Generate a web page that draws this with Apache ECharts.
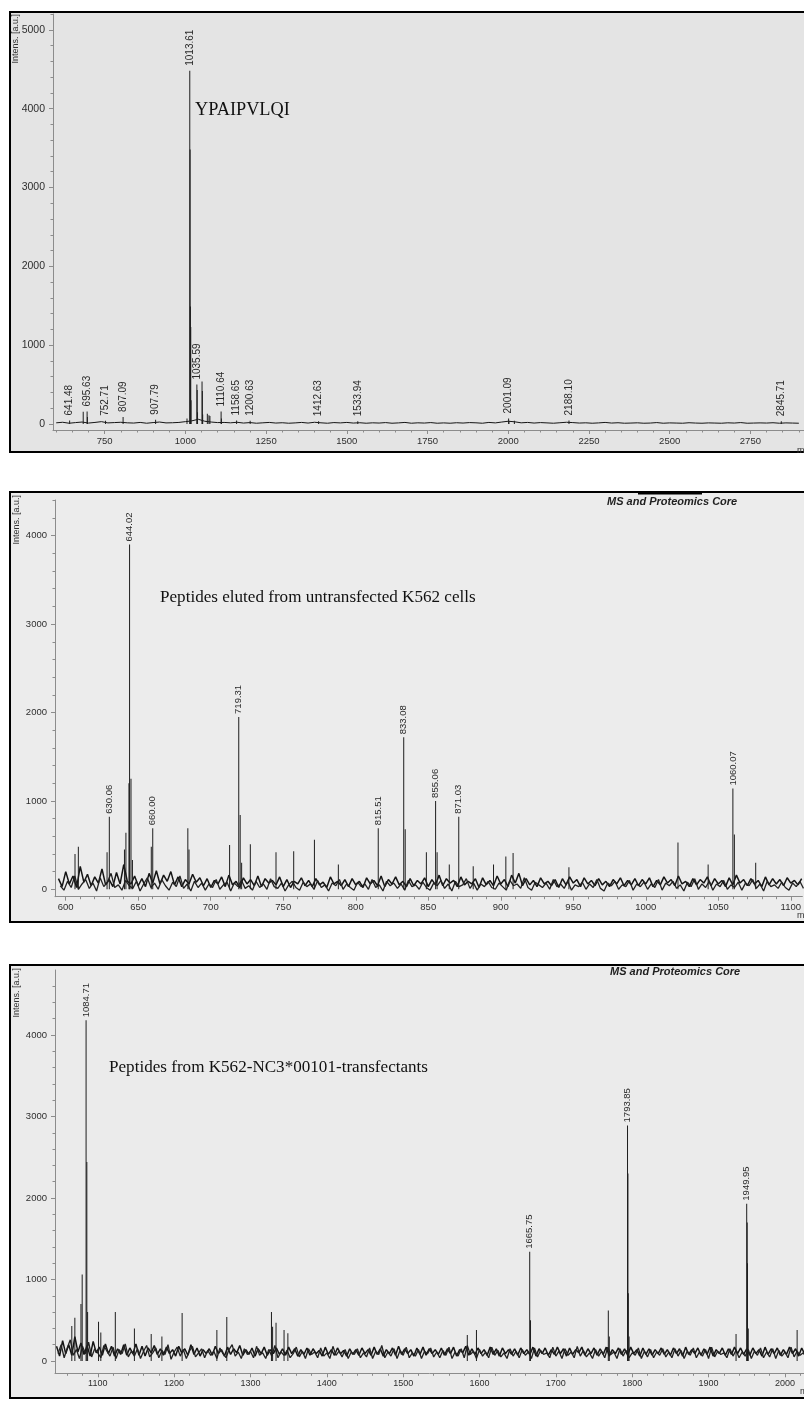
<!DOCTYPE html>
<html>
<head>
<meta charset="utf-8">
<script src="https://cdn.jsdelivr.net/npm/echarts@6/dist/echarts.min.js"></script>
<style>
html,body{margin:0;padding:0;background:#ffffff;overflow:hidden}
#c{width:804px;height:1401px}
</style>
</head>
<body>
<div id="c"></div>
<script>
// ================= DATA =================
// Panel 1 : YPAIPVLQI
const P1_X_TICKS = [750, 1000, 1250, 1500, 1750, 2000, 2250, 2500, 2750];
const P1_Y_TICKS = [0, 1000, 2000, 3000, 4000, 5000];
const P1_LABELED = [[641.48, 45], [695.63, 160], [752.71, 40], [807.09, 90], [907.79, 55],
  [1013.61, 4480], [1035.59, 500], [1110.64, 160], [1158.65, 45], [1200.63, 40],
  [1412.63, 35], [1533.94, 35], [2001.09, 70], [2188.10, 45], [2845.71, 35]];
const P1_PEAKS = [[683.6, 155], [696.6, 90], [1005.0, 70], [1014.62, 3480], [1015.62, 1490],
  [1016.62, 1230], [1017.6, 300], [1036.6, 430], [1037.6, 150], [1051.6, 540], [1052.6, 420],
  [1053.6, 120], [1068.0, 130], [1073.0, 110], [1076.0, 100], [1111.6, 70], [2002.1, 40], [2019.0, 40]];
const P1_NOISE_START = 600, P1_NOISE_STEP = 20;
const P1_NOISE = [
  15, 22, 10, 18, 25, 12, 20, 30, 14, 18,
  22, 15, 12, 20, 10, 18, 25, 14, 16, 20,
  30, 40, 60, 35, 25, 18, 20, 15, 22, 12,
  18, 10, 15, 20, 12, 16, 10, 14, 20, 12,
  22, 15, 10, 18, 14, 20, 12, 16, 10, 15,
  12, 18, 10, 14, 20, 10, 15, 12, 18, 10,
  14, 10, 16, 12, 18, 15, 10, 20, 14, 25,
  35, 28, 15, 20, 12, 18, 14, 10, 16, 22,
  18, 12, 15, 10, 14, 20, 12, 16, 10, 12,
  15, 10, 12, 18, 10, 14, 12, 10, 16, 12,
  10, 14, 12, 10, 15, 12, 18, 10, 12, 14,
  12, 16, 10, 14, 12, 10];
const P1_NOISE_B = [];

// Panel 2 : untransfected K562
const P2_X_TICKS = [600, 650, 700, 750, 800, 850, 900, 950, 1000, 1050, 1100];
const P2_Y_TICKS = [0, 1000, 2000, 3000, 4000];
const P2_LABELED = [[630.06, 820], [644.02, 3900], [660.00, 690], [719.31, 1950], [815.51, 690],
  [833.08, 1720], [855.06, 1000], [871.03, 820], [1060.07, 1140]];
const P2_PEAKS = [[606.4, 400], [608.7, 480], [628.5, 420], [640.5, 450], [641.5, 640], [643.6, 1200],
  [645.0, 1250], [646.0, 330], [659.0, 480], [684.2, 690], [685.0, 450], [713.0, 500], [720.3, 840],
  [721.3, 300], [727.3, 510], [745.0, 420], [757.2, 430], [771.5, 560], [788.0, 280], [834.1, 680],
  [848.7, 420], [856.1, 420], [864.5, 280], [881.0, 260], [895.0, 280], [903.5, 370], [908.5, 410],
  [947.0, 250], [1022.2, 530], [1043.0, 280], [1061.1, 620], [1075.8, 300]];
const P2_NOISE_START = 595, P2_NOISE_STEP = 2.5;
const P2_NOISE = [
  120, 30, 200, 60, 150, 20, 260, 80, 170, 40, 140, 70, 230, 50, 110, 30, 190, 60, 280, 90,
  60, 150, 40, 120, 30, 180, 70, 210, 60, 160, 90, 200, 50, 140, 30, 110, 60, 170, 80, 130,
  40, 120, 20, 100, 60, 140, 30, 160, 50, 90, 20, 130, 60, 110, 40, 150, 30, 120, 70, 100,
  50, 140, 30, 110, 20, 90, 60, 130, 40, 100, 30, 120, 50, 80, 20, 140, 60, 90, 40, 110,
  30, 120, 50, 90, 20, 130, 60, 100, 40, 150, 30, 110, 60, 140, 50, 90, 30, 120, 40, 100,
  60, 130, 30, 110, 50, 160, 40, 120, 70, 100, 30, 140, 50, 90, 60, 120, 20, 130, 50, 100,
  40, 150, 60, 110, 30, 160, 70, 180, 40, 120, 50, 100, 30, 130, 60, 90, 40, 110, 20, 120,
  50, 140, 70, 110, 30, 130, 60, 100, 40, 120, 50, 90, 30, 110, 60, 130, 40, 100, 50, 120,
  40, 110, 60, 130, 30, 100, 50, 140, 70, 110, 40, 150, 60, 90, 30, 120, 50, 110, 70, 140,
  40, 120, 60, 100, 30, 130, 50, 160, 70, 110, 40, 120, 60, 100, 30, 140, 50, 120, 60, 110,
  40, 130, 70, 100, 50, 120];
// second overlaid trace of the same spectrum (offset half a step)
const P2_NOISE_B_START = 596.25;
const P2_NOISE_B = [
  40, -10, 90, 20, 150, 0, 60, 110, 10, 70, -20, 130, 30, 80, 180, 20, 50, -10, 100, 40,
  10, 90, -20, 60, 130, 20, 70, 0, 110, 40, -10, 80, 30, 150, 10, 60, -20, 90, 20, 70,
  -10, 60, 20, 110, 0, 50, 80, -20, 70, 30, 100, 10, 40, -10, 90, 20, 60, 0, 120, 30,
  10, 70, -20, 50, 90, 20, -10, 80, 30, 60, 0, 100, 20, 50, -20, 70, 40, 110, 0, 60,
  20, -10, 80, 30, 60, 0, 110, 20, 50, -20, 90, 40, 70, 10, 60, -10, 100, 30, 50, 0,
  80, 20, -10, 70, 40, 100, 10, 60, -20, 90, 30, 50, 120, 10, 70, -10, 60, 30, 90, 20,
  0, 70, 30, -10, 100, 40, 60, 10, 130, 20, -10, 80, 50, 20, 70, 0, 110, 30, 60, 10,
  90, -10, 50, 30, 80, 0, 60, 20, 110, 10, -20, 70, 40, 90, 0, 50, 30, 100, -10, 60,
  30, 80, 0, 60, 20, 110, -10, 70, 40, 90, 10, 50, -20, 80, 30, 120, 0, 60, 20, 90,
  -10, 60, 30, 100, 0, 50, 20, 80, -10, 70, 40, 110, 10, 60, -20, 90, 30, 50, 10, 80,
  20, -10, 70, 30, 90, 10];

// Panel 3 : K562-NC3*00101 transfectants
const P3_X_TICKS = [1100, 1200, 1300, 1400, 1500, 1600, 1700, 1800, 1900, 2000];
const P3_Y_TICKS = [0, 1000, 2000, 3000, 4000];
const P3_LABELED = [[1084.71, 4180], [1665.75, 1340], [1793.85, 2890], [1949.95, 1930]];
const P3_PEAKS = [[1066.0, 430], [1070.0, 530], [1078.0, 700], [1079.6, 1060], [1085.7, 2440],
  [1086.7, 600], [1101.0, 480], [1104.0, 350], [1123.0, 600], [1148.0, 400], [1170.0, 330],
  [1184.0, 300], [1210.5, 590], [1256.0, 380], [1269.0, 540], [1327.5, 600], [1329.0, 420],
  [1333.5, 470], [1344.0, 380], [1349.0, 340], [1584.0, 320], [1596.0, 380], [1666.8, 500],
  [1768.7, 620], [1770.0, 300], [1794.4, 2300], [1794.9, 830], [1795.9, 300], [1936.0, 330],
  [1950.6, 1700], [1951.0, 1200], [1952.0, 400], [2016.0, 380]];
const P3_NOISE_START = 1046, P3_NOISE_STEP = 4;
const P3_NOISE = [
  180, 60, 250, 90, 200, 70, 300, 110, 220, 80, 190, 60, 240, 100, 170, 70, 210, 90, 180, 60, 150, 80, 200, 70, 160,
  90, 210, 70, 180, 60, 160, 100, 190, 80, 150, 70, 170, 90, 140, 60, 180, 100, 150, 70, 200, 80, 160, 60, 140, 90,
  150, 70, 180, 90, 140, 60, 170, 80, 150, 100, 190, 70, 140, 80, 160, 60, 150, 90, 170, 70, 140, 90, 160, 80, 150,
  70, 170, 90, 150, 60, 140, 80, 160, 70, 150, 90, 130, 60, 170, 80, 140, 70, 160, 90, 130, 60, 150, 80, 140, 70,
  160, 90, 140, 70, 170, 80, 150, 60, 140, 90, 160, 70, 180, 80, 150, 90, 140, 60, 160, 80, 170, 70, 150, 90, 140,
  80, 160, 70, 150, 90, 170, 60, 140, 100, 180, 70, 150, 80, 160, 90, 140, 70, 170, 80, 150, 60, 160, 90, 140, 80,
  150, 70, 160, 90, 140, 80, 170, 60, 150, 90, 160, 70, 140, 80, 170, 90, 150, 60, 160, 80, 140, 100, 170, 70, 150,
  90, 160, 70, 150, 80, 170, 60, 140, 90, 160, 80, 150, 70, 170, 90, 140, 60, 160, 80, 150, 70, 140, 90, 160, 80,
  140, 70, 160, 90, 150, 60, 170, 80, 140, 90, 160, 70, 150, 80, 170, 60, 140, 90, 160, 70, 150, 80, 170, 90, 160,
  80, 150, 70, 160, 90, 140, 60, 170, 80, 150, 90, 160, 70, 140, 80, 170, 90, 150, 60, 160, 80, 140];
const P3_NOISE_B_START = 1048;
const P3_NOISE_B = [
  90, 200, 40, 160, 260, 70, 140, 30, 180, 90, 230, 50, 150, 100, 40, 190, 120, 60, 170, 30, 140, 90, 210, 50, 120,
  60, 150, 30, 120, 190, 50, 100, 160, 40, 130, 80, 200, 20, 110, 170, 60, 140, 30, 120, 180, 50, 100, 150, 40, 130,
  70, 120, 30, 160, 90, 40, 140, 200, 60, 110, 30, 150, 80, 120, 40, 180, 70, 100, 30, 140, 60, 190, 40, 110, 70,
  130, 40, 90, 170, 50, 120, 30, 150, 80, 110, 40, 160, 60, 100, 30, 180, 70, 120, 50, 140, 30, 110, 80, 150, 40,
  100, 50, 160, 30, 120, 80, 190, 40, 110, 60, 150, 30, 130, 70, 170, 40, 100, 60, 140, 30, 120, 90, 160, 50, 110,
  40, 130, 70, 170, 30, 110, 60, 150, 40, 190, 80, 120, 30, 140, 60, 110, 40, 170, 70, 130, 50, 100, 30, 150, 60,
  120, 40, 140, 70, 110, 30, 160, 50, 130, 80, 100, 40, 170, 60, 120, 30, 150, 70, 110, 40, 180, 60, 130, 50, 100,
  30, 140, 60, 120, 40, 170, 80, 110, 30, 150, 60, 130, 40, 100, 70, 160, 30, 120, 50, 140, 40, 110, 70, 150, 50,
  110, 40, 150, 60, 130, 30, 120, 70, 160, 40, 110, 60, 140, 30, 170, 50, 120, 80, 100, 40, 150, 60, 130, 40, 110,
  60, 140, 30, 120, 70, 160, 40, 110, 50, 150, 30, 130, 60, 110, 40, 170, 50, 120, 70, 100, 40, 130];

const TEXT_P1 = 'YPAIPVLQI';
const TEXT_P2 = 'Peptides eluted from untransfected K562 cells';
const TEXT_P3 = 'Peptides from K562-NC3*00101-transfectants';
const CORE_TEXT = 'MS and Proteomics Core';
const Y_NAME = 'Intens. [a.u.]';

// ================= LAYOUT =================
const SANS = '"Liberation Sans", Arial, Helvetica, sans-serif';
const SERIF = '"Liberation Serif", "Times New Roman", Times, serif';

const panels = [
  { labeled: P1_LABELED, peaks: P1_PEAKS, noise: P1_NOISE, nStart: P1_NOISE_START, nStep: P1_NOISE_STEP,
    noiseB: P1_NOISE_B, nStartB: P1_NOISE_START,
    xTicks: P1_X_TICKS, yTicks: P1_Y_TICKS, noiseWidth: 1,
    left: 53, top: 14, height: 416, xMin: 590, xMax: 2916, yMin: -76, yMax: 5200,
    xMinor: 50, yMinor: 200, yFont: 10.5, xFont: 9.5, lblFont: 10, lblDist: 5 },
  { labeled: P2_LABELED, peaks: P2_PEAKS, noise: P2_NOISE, nStart: P2_NOISE_START, nStep: P2_NOISE_STEP,
    noiseB: P2_NOISE_B, nStartB: P2_NOISE_B_START,
    xTicks: P2_X_TICKS, yTicks: P2_Y_TICKS, noiseWidth: 1.5,
    left: 55, top: 500, height: 396.7, xMin: 592.6, xMax: 1108, yMin: -84, yMax: 4404,
    xMinor: 10, yMinor: 200, yFont: 9.5, xFont: 9.5, lblFont: 9.5, lblDist: 3 },
  { labeled: P3_LABELED, peaks: P3_PEAKS, noise: P3_NOISE, nStart: P3_NOISE_START, nStep: P3_NOISE_STEP,
    noiseB: P3_NOISE_B, nStartB: P3_NOISE_B_START,
    xTicks: P3_X_TICKS, yTicks: P3_Y_TICKS, noiseWidth: 1.5,
    left: 55, top: 970, height: 403.3, xMin: 1044, xMax: 2025, yMin: -151, yMax: 4797,
    xMinor: 20, yMinor: 200, yFont: 9.5, xFont: 9, lblFont: 9.5, lblDist: 3 }
];

function multiples(step, lo, hi) {
  const out = [];
  for (let v = Math.ceil(lo / step) * step; v <= hi; v += step) out.push(v);
  return out;
}

const grid = [], xAxis = [], yAxis = [], series = [];
const AX = '#8c8c8c', LBL = '#2e2e2e';

panels.forEach((p, i) => {
  grid.push({ left: p.left, top: p.top, right: 0, height: p.height });
  const xi = xAxis.length, yi = yAxis.length;
  xAxis.push({
    type: 'value', gridIndex: i, position: 'bottom', min: p.xMin, max: p.xMax,
    axisLine: { show: true, onZero: false, lineStyle: { color: AX, width: 1 } },
    axisTick: { show: true, customValues: p.xTicks, length: 4, lineStyle: { color: AX } },
    axisLabel: { customValues: p.xTicks, margin: 6, fontSize: p.xFont, color: LBL, fontFamily: SANS,
      formatter: v => String(v) },
    splitLine: { show: false }
  });
  xAxis.push({
    type: 'value', gridIndex: i, position: 'bottom', min: p.xMin, max: p.xMax,
    axisLine: { show: false, onZero: false },
    axisTick: { show: true, customValues: multiples(p.xMinor, p.xMin, p.xMax), length: 2.5, lineStyle: { color: AX } },
    axisLabel: { show: false }, splitLine: { show: false }
  });
  yAxis.push({
    type: 'value', gridIndex: i, position: 'left', min: p.yMin, max: p.yMax,
    axisLine: { show: true, onZero: false, lineStyle: { color: AX, width: 1 } },
    axisTick: { show: true, customValues: p.yTicks, length: 4, lineStyle: { color: AX } },
    axisLabel: { customValues: p.yTicks, margin: 8, fontSize: p.yFont, color: LBL, fontFamily: SANS,
      formatter: v => String(v) },
    splitLine: { show: false }
  });
  yAxis.push({
    type: 'value', gridIndex: i, position: 'left', min: p.yMin, max: p.yMax,
    axisLine: { show: false, onZero: false },
    axisTick: { show: true, customValues: multiples(p.yMinor, 0, p.yMax), length: 2.5, lineStyle: { color: AX } },
    axisLabel: { show: false }, splitLine: { show: false }
  });

  // baseline noise traces (two overlaid acquisitions), estimated heights
  const traceA = p.noise.map((v, k) => [p.nStart + k * p.nStep, v]);
  series.push({
    type: 'line', xAxisIndex: xi, yAxisIndex: yi, data: traceA, symbol: 'none',
    lineStyle: { width: p.noiseWidth, color: '#141414' }, silent: true, animation: false, z: 2
  });
  if (p.noiseB.length) {
    const traceB = p.noiseB.map((v, k) => [p.nStartB + k * p.nStep, v]);
    series.push({
      type: 'line', xAxisIndex: xi, yAxisIndex: yi, data: traceB, symbol: 'none',
      lineStyle: { width: 1.3, color: '#222222' }, silent: true, animation: false, z: 2
    });
  }

  // peak sticks
  const items = [];
  p.peaks.forEach(d => items.push({ value: d }));
  p.labeled.forEach(d => items.push({
    value: d,
    label: { show: true, formatter: d[0].toFixed(2) }
  }));
  items.sort((a, b) => a.value[0] - b.value[0]);
  series.push({
    type: 'bar', xAxisIndex: xi, yAxisIndex: yi, data: items, barWidth: 1, barGap: '-100%',
    itemStyle: { color: '#1e1e1e' }, silent: true, animation: false, z: 3,
    label: { show: false, position: 'top', rotate: 90, align: 'left', verticalAlign: 'middle',
      distance: p.lblDist, fontSize: p.lblFont, fontFamily: SANS, color: '#2a2a2a' }
  });
});

// panel boxes and free texts
const boxes = [
  { y: 12, h: 440, fill: '#e4e4e4' },
  { y: 492, h: 430, fill: '#ececec' },
  { y: 965, h: 433, fill: '#ebebeb' }
];
const graphic = [];
boxes.forEach(b => graphic.push({
  type: 'rect', z: -10, silent: true,
  shape: { x: 10, y: b.y, width: 810, height: b.h },
  style: { fill: b.fill, stroke: '#000', lineWidth: 2 }
}));
graphic.push({ type: 'rect', z: 10, silent: true, shape: { x: 638, y: 491, width: 64, height: 3.5 }, style: { fill: '#000' } });

function txt(x, y, text, font, extra) {
  graphic.push(Object.assign({
    type: 'text', x: x, y: y, z: 20, silent: true,
    style: Object.assign({ text: text, font: font, fill: '#111', textVerticalAlign: 'middle' }, extra || {})
  }));
}
txt(195, 110, TEXT_P1, '18.3px ' + SERIF);
txt(160, 597, TEXT_P2, '17.1px ' + SERIF);
txt(109, 1067, TEXT_P3, '17.1px ' + SERIF);
txt(607, 502, CORE_TEXT, 'italic bold 11px ' + SANS, { fill: '#222' });
txt(610, 972, CORE_TEXT, 'italic bold 11px ' + SANS, { fill: '#222' });
[[16, 14], [17, 495], [17, 968]].forEach(([x, y]) => graphic.push({
  type: 'text', x: x, y: y, rotation: Math.PI / 2, z: 20, silent: true,
  style: { text: Y_NAME, font: '9px ' + SANS, fill: '#333', textAlign: 'right', textVerticalAlign: 'middle' }
}));
[[797, 451], [797, 916], [800, 1392]].forEach(([x, y]) => txt(x, y, 'm/z', '9px ' + SANS, { fill: '#333' }));

const chart = echarts.init(document.getElementById('c'), null, { renderer: 'canvas' });
chart.setOption({
  animation: false,
  backgroundColor: '#ffffff',
  grid: grid, xAxis: xAxis, yAxis: yAxis, series: series, graphic: graphic
});
</script>
</body>
</html>
